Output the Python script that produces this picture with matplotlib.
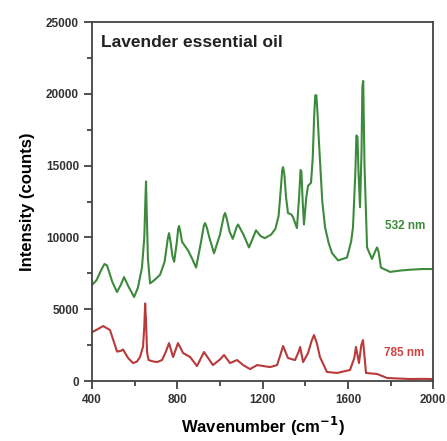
import matplotlib
matplotlib.use('Agg')
import matplotlib.pyplot as plt

plt.rcParams['font.family'] = ['Liberation Sans', 'DejaVu Sans']
plt.rcParams['font.weight'] = 'bold'

# spectra (wavenumber in cm-1, intensity in counts)
wn_532 = [400, 420, 445, 458, 470, 482, 495, 517, 535, 550, 570, 597, 615, 634, 645, 650, 653, 656, 662, 672,
          690, 719, 740, 755, 761, 767, 777, 785, 797, 804, 808, 814, 822, 831, 850, 870, 888, 910, 924, 930, 938,
          950, 972, 1000, 1018, 1024, 1032, 1045, 1060, 1080, 1085, 1092, 1110, 1136, 1150, 1169, 1190, 1210,
          1240, 1260, 1275, 1286, 1292, 1296, 1302, 1310, 1319, 1335, 1343, 1361, 1372, 1378, 1382, 1388, 1394,
          1405, 1413, 1427, 1435, 1442, 1447, 1452, 1457, 1463, 1469, 1480, 1493, 1510, 1526, 1554, 1596, 1615,
          1624, 1635, 1640, 1645, 1650, 1657, 1664, 1668, 1672, 1678, 1690, 1713, 1730, 1737, 1744, 1755, 1798,
          1850, 1891, 1950, 2000]
int_532 = [6700, 7000, 7800, 8150, 8050, 7500, 6900, 6200, 6700, 7240, 6600, 5850, 6500, 7900, 10000, 12600, 13900,
           12000, 8500, 6800,
           7000, 7400, 8300, 9900, 10300, 9800, 8700, 8300, 9600, 10600, 10800, 10400, 9700, 9500, 9100, 8500, 7900,
           9600, 10800, 11000, 10700,
           10000, 8900, 10200, 11500, 11700, 11300, 10400, 9900, 10800, 10900, 10700, 10200, 9300, 9800, 10500,
           10100, 9950,
           10200, 10600, 11500, 13500, 14700, 14900, 14400, 12800, 11700, 11600, 11400, 10650, 13000, 14700, 14600,
           12500, 10900,
           12800, 13600, 13800, 15500, 18500, 19900, 19900, 18800, 17000, 15400, 12500, 10700, 9600, 8900, 8400,
           8600, 9700,
           10700, 14500, 17100, 17000, 14500, 12100, 16000, 20500, 20900, 15000, 9300, 8500, 9100, 9300, 9000,
           7900, 7600,
           7700, 7750, 7800, 7800]

wn_785 = [400, 425, 452, 484, 505, 517, 535, 545, 569, 592, 610, 625, 639, 645, 649, 653, 658, 665,
          690, 705, 728, 745, 761, 780, 803, 827, 860, 892, 925, 967, 1000, 1019, 1047, 1080,
          1110, 1141, 1174, 1235, 1268, 1285, 1296, 1319, 1352, 1368, 1376, 1390, 1413, 1430,
          1441, 1455, 1469, 1502, 1549, 1610, 1630, 1638, 1652, 1663, 1671, 1685, 1737, 1784,
          1830, 1891, 1950, 2000]
int_785 = [3400, 3600, 3830, 3550, 2600, 2050, 2100, 2200, 1600, 1250, 1350, 1670, 2400, 3800, 5400, 4200, 2000, 1460,
           1350, 1320, 1460, 2000, 2640, 1670, 2640, 1950, 1670, 1040, 2020, 1110, 1500, 1810, 1250, 1460,
           1100, 830, 1110, 970, 1110, 1900, 2440, 1600, 1460, 2000, 2370, 1320, 1950, 2800,
           3200, 2600, 1670, 630, 560, 770, 1600, 2370, 1250, 2500, 2850, 560, 490, 210,
           180, 140, 150, 140]

fig = plt.figure(figsize=(4.47, 4.41), dpi=100)
ax = fig.add_axes([0.206, 0.136, 0.763, 0.814])

ax.plot(wn_532, int_532, color='#3d8a3d', lw=1.5)
ax.plot(wn_785, int_785, color='#b83a3a', lw=1.5)

ax.set_xlim(400, 2000)
ax.set_ylim(0, 25000)
ax.set_xticks(range(400, 2001, 400))
ax.set_xticks(range(400, 2001, 200), minor=True)
ax.set_yticks(range(0, 25001, 5000))
ax.set_yticks(range(0, 25001, 2500), minor=True)
ax.tick_params(which='major', direction='out', length=6, width=1.2, labelsize=8.5, colors='#333333')
ax.tick_params(which='minor', direction='out', length=3.5, width=1.2, colors='#333333')
for lab in ax.get_xticklabels() + ax.get_yticklabels():
    lab.set_fontweight('bold')
for s in ax.spines.values():
    s.set_linewidth(1.3)
    s.set_color('#444444')

ax.set_xlabel('Wavenumber (cm$^{\\mathbf{-1}}$)', fontsize=12, fontweight='bold', labelpad=6)
ax.set_ylabel('Intensity (counts)', fontsize=12, fontweight='bold', labelpad=8)
ax.text(0.025, 0.965, 'Lavender essential oil', transform=ax.transAxes, fontsize=12.5,
        fontweight='bold', va='top', ha='left', color='#222222')
ax.text(1868, 10800, '532 nm', color='#3d8a3d', fontsize=8.5, fontweight='bold', ha='center', va='center')
ax.text(1862, 1950, '785 nm', color='#d04040', fontsize=8.5, fontweight='bold', ha='center', va='center')

fig.savefig('out.png', dpi=100)
